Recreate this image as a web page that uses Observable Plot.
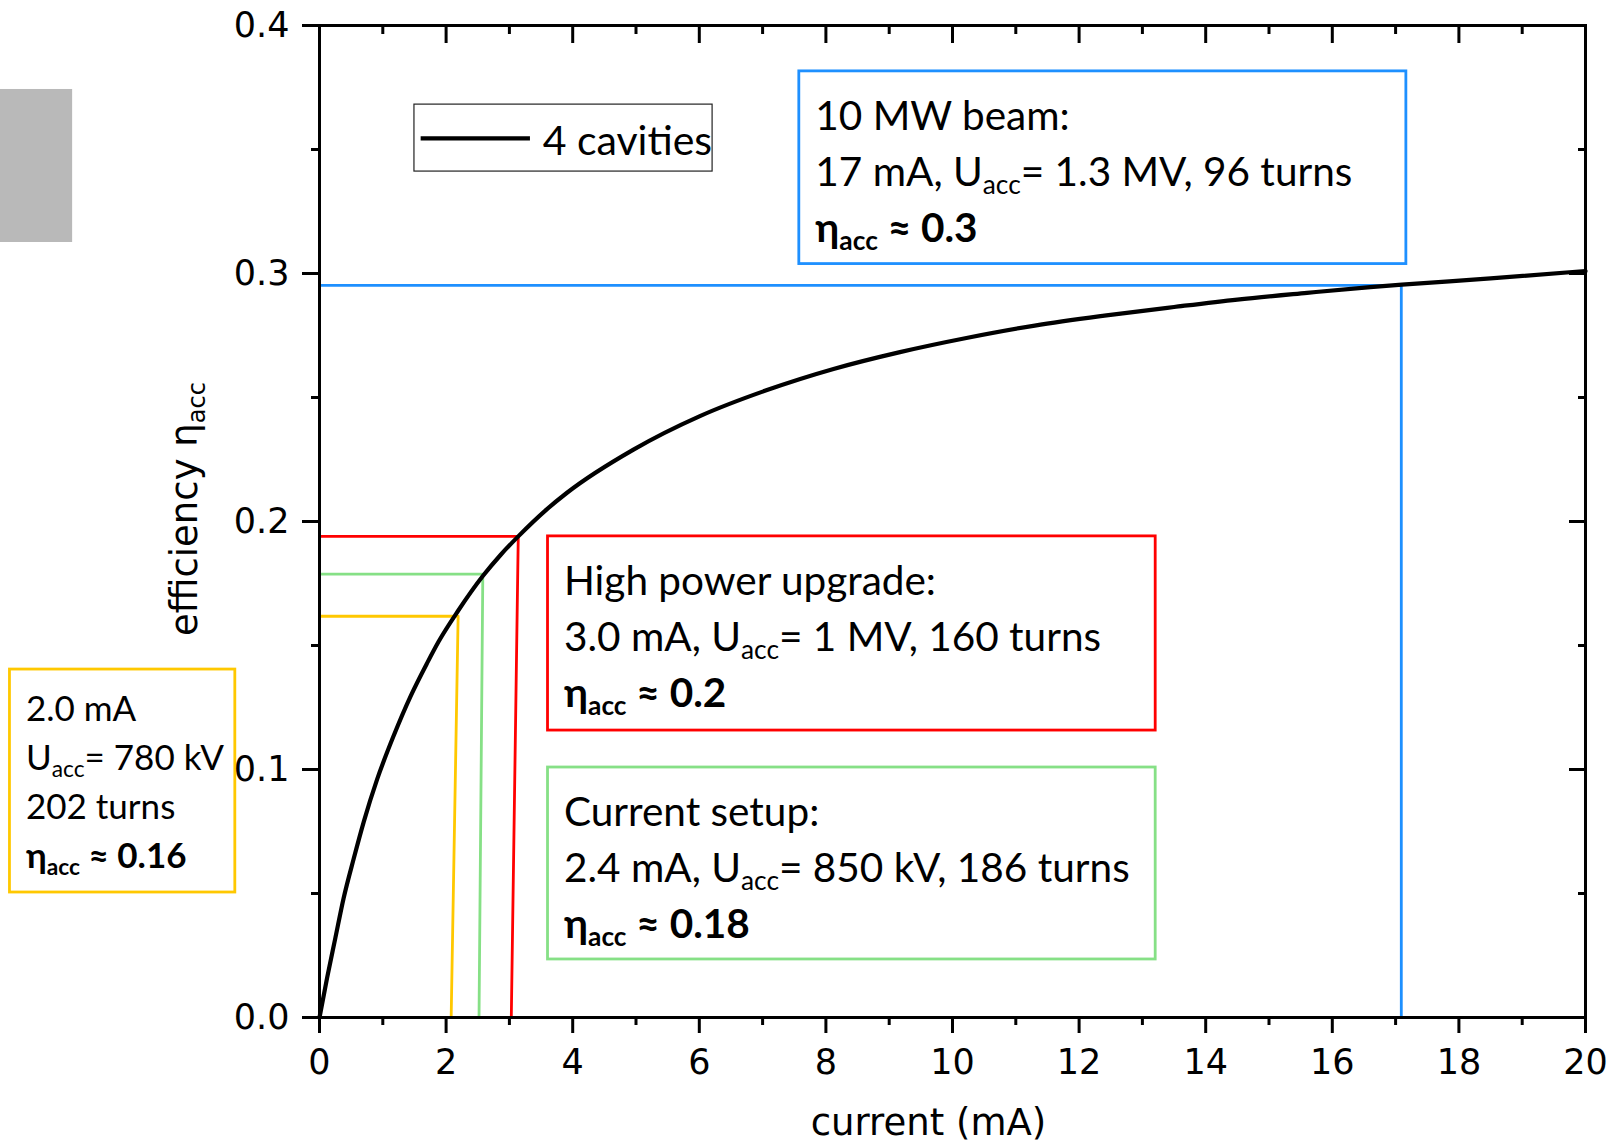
<!DOCTYPE html>
<html><head><meta charset="utf-8">
<script src="https://cdn.jsdelivr.net/npm/d3@7"></script>
<script src="https://cdn.jsdelivr.net/npm/@observablehq/plot@0.6"></script>
<style>
html,body{margin:0;padding:0;background:#fff;}
#chart svg{display:block;}
</style>
</head><body><div id="chart"></div>
<script>
// ---- curve: efficiency vs current (4 cavities) ----
const currentMA = [0, 0.12, 0.25, 0.38, 0.54, 0.70, 0.91, 1.17, 1.44, 1.70, 1.88, 2.19, 2.58, 2.86, 3.14, 3.59, 3.91, 4.96, 6.01, 7.07, 8.12, 9.17, 10.22, 11.3, 12.4, 13.5, 14.5, 15.6, 16.6, 17.1, 18.5, 20];
const efficiency = [0, 0.016, 0.032, 0.048, 0.064, 0.079, 0.096, 0.1135, 0.1296, 0.1429, 0.1515, 0.164, 0.178, 0.1865, 0.194, 0.2049, 0.2116, 0.229, 0.2425, 0.253, 0.2615, 0.2683, 0.274, 0.279, 0.283, 0.2865, 0.2895, 0.2922, 0.2945, 0.2955, 0.298, 0.301];

// ---- operating points (guide lines) ----
const guideColor = ["#ffc800", "#86e086", "#ff0000", "#1e90ff"];
const guideEta = [0.1618, 0.1788, 0.194, 0.2952];
const guideTopI = [2.19, 2.58, 3.14, 17.09];
const guideBottomI = [2.08, 2.52, 3.03, 17.09];

// ---- annotation boxes (data units) ----
const boxColor = ["#ffc800", "#ff0000", "#86e086", "#1e90ff"];
const boxI1 = [-4.89, 3.61, 3.61, 7.58];
const boxI2 = [-1.33, 13.21, 13.21, 17.17];
const boxEtaTop = [0.1403, 0.194, 0.1008, 0.3815];
const boxEtaBottom = [0.0504, 0.1157, 0.0234, 0.3038];
const boxText = [
  ["2.0 mA", "U_{acc}= 780 kV", "202 turns", "**η_{acc} ≈ 0.16"],
  ["High power upgrade:", "3.0 mA, U_{acc}= 1 MV, 160 turns", "**η_{acc} ≈ 0.2"],
  ["Current setup:", "2.4 mA, U_{acc}= 850 kV, 186 turns", "**η_{acc} ≈ 0.18"],
  ["10 MW beam:", "17 mA, U_{acc}= 1.3 MV, 96 turns", "**η_{acc} ≈ 0.3"]
];

// ---- legend ----
const legendLabel = "4 cavities";
const legendI = [1.50, 6.21];
const legendEta = [0.3411, 0.3681];
// grey block at the far left of the picture
const greyI = [-5.04, -3.90];
const greyEta = [0.3125, 0.3742];

// ---- axes ----
const xMajor = [0, 2, 4, 6, 8, 10, 12, 14, 16, 18, 20];
const xMinor = [1, 3, 5, 7, 9, 11, 13, 15, 17, 19];
const yMajor = [0, 0.1, 0.2, 0.3, 0.4];
const yMinor = [0.05, 0.15, 0.25, 0.35];
const yTickLabels = ["0.0", "0.1", "0.2", "0.3", "0.4"];
const xTitle = "current (mA)";
const yTitle = "efficiency η_{acc}";

const curve = currentMA.map((I, i) => ({I, eta: efficiency[i]}));

const guideMarks = guideColor.map((c, i) => Plot.line(
  [{I: 0, eta: guideEta[i]}, {I: guideTopI[i], eta: guideEta[i]}, {I: guideBottomI[i], eta: 0}],
  {x: "I", y: "eta", stroke: c, strokeWidth: 2.8}
));
const boxMarks = boxColor.map((c, i) => Plot.rect(
  [{x1: boxI1[i], x2: boxI2[i], y1: boxEtaBottom[i], y2: boxEtaTop[i]}],
  {x1: "x1", x2: "x2", y1: "y1", y2: "y2", stroke: c, strokeWidth: 2.8, fill: "white"}
));

const TF = "'DejaVu Sans', Verdana, sans-serif";
const plot = Plot.plot({
  width: 1614, height: 1146,
  marginLeft: 319, marginRight: 29, marginTop: 25, marginBottom: 129,
  x: {domain: [0, 20]},
  y: {domain: [0, 0.4]},
  style: {fontFamily: TF, fontSize: "32px", color: "black", background: "white", overflow: "visible"},
  marks: [
    Plot.rect([{x1: greyI[0], x2: greyI[1], y1: greyEta[0], y2: greyEta[1]}], {x1: "x1", x2: "x2", y1: "y1", y2: "y2", fill: "#b9b9b9"}),
    ...guideMarks,
    ...boxMarks,
    Plot.rect([{x1: legendI[0], x2: legendI[1], y1: legendEta[0], y2: legendEta[1]}], {x1: "x1", x2: "x2", y1: "y1", y2: "y2", stroke: "#222", strokeWidth: 1.2, fill: "white"}),
    Plot.line(curve, {x: "I", y: "eta", stroke: "black", strokeWidth: 4.2, curve: "monotone-x"}),
    Plot.frame({stroke: "black", strokeWidth: 3}),
    Plot.axisX(xMajor, {anchor: "bottom", tickSize: 16, tickPadding: 16, strokeWidth: 3, label: null, tickFormat: d => String(d)}),
    Plot.axisX(xMinor, {anchor: "bottom", tickSize: 8, strokeWidth: 3, fill: "none", label: null}),
    Plot.axisX(xMajor, {anchor: "top", tickSize: 17, dy: 17, strokeWidth: 3, fill: "none", label: null}),
    Plot.axisX(xMinor, {anchor: "top", tickSize: 8, dy: 8, strokeWidth: 3, fill: "none", label: null}),
    Plot.axisY(yMajor, {anchor: "left", tickSize: 17, tickPadding: 13, strokeWidth: 3, label: null, tickFormat: d => yTickLabels[yMajor.indexOf(d)]}),
    Plot.axisY(yMinor, {anchor: "left", tickSize: 8, strokeWidth: 3, fill: "none", label: null}),
    Plot.axisY(yMajor, {anchor: "right", tickSize: 17, dx: -17, strokeWidth: 3, fill: "none", label: null}),
    Plot.axisY(yMinor, {anchor: "right", tickSize: 8, dx: -8, strokeWidth: 3, fill: "none", label: null})
  ]
});
document.getElementById("chart").append(plot);

// ---- rich text (subscripts) positioned through Plot's scales ----
const sx = plot.scale("x"), sy = plot.scale("y");
const svg = d3.select(plot);
// enlarge tick labels to the reference size
svg.selectAll('g[aria-label="x-axis tick label"], g[aria-label="y-axis tick label"]')
  .attr("font-size", 35).style("font-size", "35px").style("font-family", TF);

const BF = "Lato, 'Open Sans', 'DejaVu Sans', sans-serif";

function richText(sel, str, fs, subShift) {
  let bold = false;
  if (str.startsWith("**")) { bold = true; str = str.slice(2); }
  sel.attr("font-weight", bold ? 700 : 400);
  const parts = str.split(/(_\{[^}]*\})/).filter(s => s.length);
  let prevSub = false;
  for (const p of parts) {
    const m = p.match(/^_\{([^}]*)\}$/);
    if (m) {
      sel.append("tspan").attr("font-size", fs * 0.65).attr("dy", subShift).text(m[1]);
      prevSub = true;
    } else {
      const t = sel.append("tspan").text(p);
      if (prevSub) t.attr("dy", -subShift);
      prevSub = false;
    }
  }
}

const g = svg.append("g").attr("font-family", BF).attr("fill", "black").attr("text-anchor", "start");
boxText.forEach((lines, i) => {
  const small = lines.length === 4;
  const fs = small ? 35 : 40.5;
  const offs = small ? [52, 101, 150, 199] : [59, 115, 171];
  const x0 = sx.apply(boxI1[i]) + 16.5;
  const y0 = sy.apply(boxEtaTop[i]);
  lines.forEach((ln, j) => {
    const t = g.append("text").attr("x", x0).attr("y", y0 + offs[j]).attr("font-size", fs);
    richText(t, ln, fs, fs * 0.2);
  });
});

// legend content
{
  const lx = sx.apply(legendI[0]), ly = sy.apply(legendEta[1]);
  svg.append("line").attr("x1", lx + 6.7).attr("x2", lx + 116).attr("y1", ly + 34.3).attr("y2", ly + 34.3)
    .attr("stroke", "black").attr("stroke-width", 4.2);
  svg.append("text").attr("x", lx + 128.7).attr("y", ly + 51).attr("font-family", BF).attr("font-size", 41)
    .attr("text-anchor", "start").attr("fill", "black").text(legendLabel);
}

// axis titles
{
  const xl = svg.append("text").attr("x", 928.5).attr("y", 1135).attr("text-anchor", "middle")
    .attr("font-family", TF).attr("font-size", 37).attr("fill", "black");
  richText(xl, xTitle, 37, 7);
  const left = sx.apply(0);
  const yl = svg.append("text").attr("transform", `translate(${left - 122.3},${sy.apply(0.1536)}) rotate(-90)`)
    .attr("text-anchor", "start").attr("font-family", TF).attr("font-size", 37).attr("fill", "black");
  richText(yl, yTitle, 37, 8);
}
</script>
</body></html>
